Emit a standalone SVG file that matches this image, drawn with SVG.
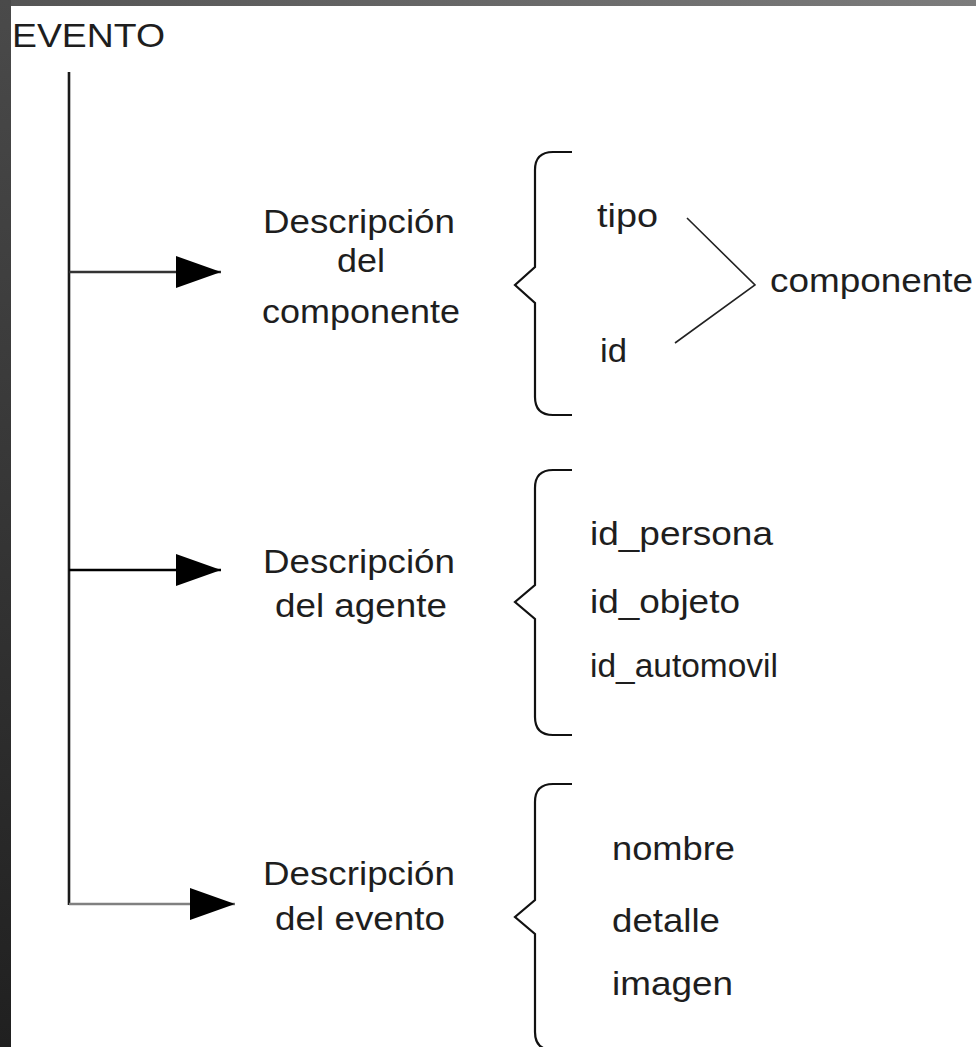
<svg xmlns="http://www.w3.org/2000/svg" width="976" height="1047" viewBox="0 0 976 1047">
  <style>
    .t { font-family: "Liberation Sans", Arial, sans-serif; font-size: 34px; fill: #1e1e1e; }
    .br { fill: none; stroke: #111; stroke-width: 2.2; }
    .trunk { stroke: #1a1a1a; stroke-width: 2.6; fill: none; }
    .ln { fill: none; stroke-width: 2.6; }
    .chev { fill: none; stroke: #222; stroke-width: 1.6; }
  </style>
  <defs>
    <linearGradient id="topband" x1="0" y1="0" x2="1" y2="0">
      <stop offset="0" stop-color="#545454"/>
      <stop offset="1" stop-color="#7c7c7c"/>
    </linearGradient>
    <linearGradient id="sideband" x1="0" y1="0" x2="0" y2="1">
      <stop offset="0" stop-color="#4a4a4a"/>
      <stop offset="1" stop-color="#202020"/>
    </linearGradient>
    <marker id="head" markerUnits="userSpaceOnUse" markerWidth="46" markerHeight="32" refX="45" refY="16" orient="auto" viewBox="0 0 46 32">
      <path d="M0,0 L45,16 L0,32 Z" fill="#000"/>
    </marker>
  </defs>

  <!-- page background and frame -->
  <rect x="0" y="0" width="976" height="1047" fill="#ffffff"/>
  <rect x="0" y="0" width="976" height="6" fill="url(#topband)"/>
  <rect x="0" y="0" width="11" height="1047" fill="url(#sideband)"/>

  <!-- root label -->
  <g id="evento">
    <text class="t" x="12" y="47" textLength="153" lengthAdjust="spacingAndGlyphs">EVENTO</text>
  </g>

  <!-- connectors: trunk and three branches -->
  <g id="connectors">
    <path class="trunk" d="M69,72 V905"/>
    <path class="ln" stroke="#333" d="M69,272 H221" marker-end="url(#head)"/>
    <path class="ln" stroke="#000" stroke-width="2.2" d="M69,570 H221" marker-end="url(#head)"/>
    <path class="ln" stroke="#808080" stroke-width="3" d="M69,904 H235" marker-end="url(#head)"/>
  </g>

  <!-- branch 1: component description -->
  <g id="desc-componente">
    <text class="t" x="263" y="233" textLength="192" lengthAdjust="spacingAndGlyphs">Descripción</text>
    <text class="t" x="337" y="272" textLength="48" lengthAdjust="spacingAndGlyphs">del</text>
    <text class="t" x="262" y="323" textLength="198" lengthAdjust="spacingAndGlyphs">componente</text>
  </g>
  <g id="brace-componente">
    <path class="br" d="M572,152 H553 Q535,152 535,170 V267 L515,285 L535,303 V397 Q535,415 553,415 H572"/>
  </g>
  <g id="attr-tipo">
    <text class="t" x="597" y="227" textLength="61" lengthAdjust="spacingAndGlyphs">tipo</text>
  </g>
  <g id="attr-id">
    <text class="t" x="600" y="362" textLength="27" lengthAdjust="spacingAndGlyphs">id</text>
  </g>
  <g id="join-componente">
    <path class="chev" d="M687,218 L755,285 L675,343"/>
    <text class="t" x="770" y="292" textLength="203" lengthAdjust="spacingAndGlyphs">componente</text>
  </g>

  <!-- branch 2: agent description -->
  <g id="desc-agente">
    <text class="t" x="263" y="573" textLength="192" lengthAdjust="spacingAndGlyphs">Descripción</text>
    <text class="t" x="275" y="617" textLength="172" lengthAdjust="spacingAndGlyphs">del agente</text>
  </g>
  <g id="brace-agente">
    <path class="br" d="M572,470 H553 Q535,470 535,488 V585 L515,602 L535,619 V717 Q535,735 553,735 H572"/>
  </g>
  <g id="attrs-agente">
    <text class="t" x="590" y="545" textLength="183" lengthAdjust="spacingAndGlyphs">id_persona</text>
    <text class="t" x="590" y="613" textLength="150" lengthAdjust="spacingAndGlyphs">id_objeto</text>
    <text class="t" x="590" y="677" textLength="188" lengthAdjust="spacingAndGlyphs">id_automovil</text>
  </g>

  <!-- branch 3: event description -->
  <g id="desc-evento">
    <text class="t" x="263" y="885" textLength="192" lengthAdjust="spacingAndGlyphs">Descripción</text>
    <text class="t" x="275" y="930" textLength="170" lengthAdjust="spacingAndGlyphs">del evento</text>
  </g>
  <g id="brace-evento">
    <path class="br" d="M572,784 H553 Q535,784 535,802 V900 L515,917 L535,934 V1032 Q535,1050 553,1050 H572"/>
  </g>
  <g id="attrs-evento">
    <text class="t" x="612" y="860" textLength="123" lengthAdjust="spacingAndGlyphs">nombre</text>
    <text class="t" x="612" y="932" textLength="108" lengthAdjust="spacingAndGlyphs">detalle</text>
    <text class="t" x="612" y="995" textLength="121" lengthAdjust="spacingAndGlyphs">imagen</text>
  </g>
</svg>
